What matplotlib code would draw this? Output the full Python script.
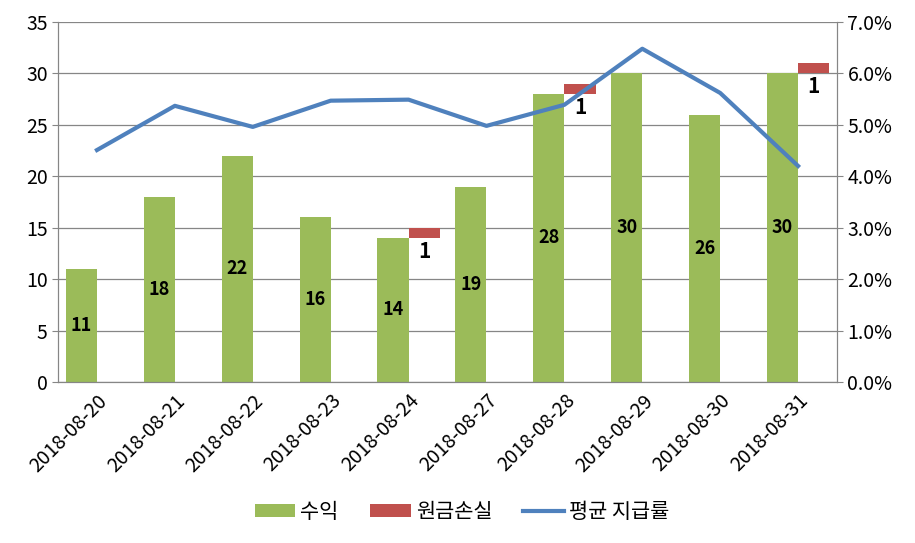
import matplotlib
matplotlib.use("Agg")
import numpy as np
import matplotlib.pyplot as plt
from matplotlib.ticker import PercentFormatter

plt.rcParams['font.family'] = ['Noto Sans CJK KR', 'DejaVu Sans']

dates = ["2018-08-20", "2018-08-21", "2018-08-22", "2018-08-23", "2018-08-24",
         "2018-08-27", "2018-08-28", "2018-08-29", "2018-08-30", "2018-08-31"]
profit = [11, 18, 22, 16, 14, 19, 28, 30, 26, 30]
loss = [0, 0, 0, 0, 1, 0, 1, 0, 0, 1]
payout = [4.51, 5.37, 4.96, 5.47, 5.49, 4.98, 5.39, 6.48, 5.62, 4.20]

green = "#9BBB59"
red = "#C0504D"
blue = "#4F81BD"
gray = "#868686"

fig = plt.figure(figsize=(9.15, 5.43), dpi=100)
ax = fig.add_axes([0.0634, 0.2965, 0.8514, 0.663])
ax2 = ax.twinx()

x = np.arange(len(dates))
w = 0.4
ax.bar(x - w / 2, profit, width=w, color=green, label="수익", zorder=2)
lx = [xi + w / 2 for xi, l in zip(x, loss) if l]
lb = [p for p, l in zip(profit, loss) if l]
lv = [l for l in loss if l]
ax.bar(lx, lv, bottom=lb, width=w, color=red, label="원금손실", zorder=2)

for xi, p in zip(x, profit):
    ax.text(xi - w / 2, p / 2, str(p), ha='center', va='center', fontsize=13,
            fontweight='bold', zorder=3)
for xi, b, v in zip(lx, lb, lv):
    ax.text(xi, b - 0.25, str(v), ha='center', va='top', fontsize=15,
            fontweight='bold', zorder=3)

ax2.plot(x, payout, color=blue, lw=3, label="평균 지급률", zorder=4)

ax.set_xlim(-0.5, len(dates) - 0.5)
ax.set_ylim(0, 35)
ax.set_yticks(range(0, 36, 5))
ax2.set_ylim(0, 7)
ax2.set_yticks(np.arange(0, 7.01, 1))
ax2.yaxis.set_major_formatter(PercentFormatter(decimals=1))

ax.set_xticks(x)
ax.set_xticklabels(dates, rotation=45, ha='right', rotation_mode='anchor')
ax.yaxis.grid(True, color=gray, lw=0.9, zorder=0)
ax.set_axisbelow(True)

for a in (ax, ax2):
    a.spines['top'].set_visible(False)
    for s in ('left', 'right', 'bottom'):
        a.spines[s].set_color(gray)
    a.tick_params(colors=gray, labelcolor='black', labelsize=14, length=4)
ax.tick_params(axis='x', length=0, pad=6)
ax2.set_zorder(ax.get_zorder() + 1)
ax2.patch.set_visible(False)

h1, l1 = ax.get_legend_handles_labels()
h2, l2 = ax2.get_legend_handles_labels()
fig.legend(h1 + h2, l1 + l2, loc='center', bbox_to_anchor=(0.505, 0.057), ncol=3,
           frameon=False, fontsize=15, handlelength=1.95, handleheight=0.55,
           columnspacing=1.5, handletextpad=0.25)

fig.savefig("out.png", dpi=100)
